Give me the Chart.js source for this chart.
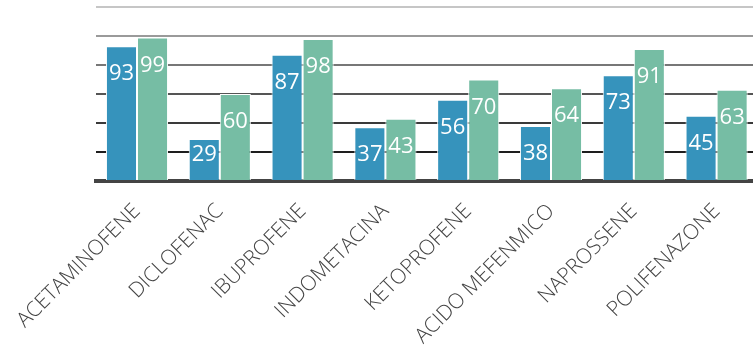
<!DOCTYPE html>
<html>
<head>
<meta charset="utf-8">
<script src="https://cdn.jsdelivr.net/npm/chart.js@4.4.1/dist/chart.umd.min.js"></script>
<style>
  html, body { margin: 0; padding: 0; background: #fff; overflow: hidden; }
  #wrap { width: 760px; height: 352px; }
</style>
</head>
<body>
<div id="wrap"><canvas id="barChart"></canvas></div>
<script>
const categories = ['ACETAMINOFENE', 'DICLOFENAC', 'IBUPROFENE', 'INDOMETACINA',
                    'KETOPROFENE', 'ACIDO MEFENMICO', 'NAPROSSENE', 'POLIFENAZONE'];
const series1 = [93, 29, 87, 37, 56, 38, 73, 45];
const series2 = [99, 60, 98, 43, 70, 64, 91, 63];
const yTicks = [0, 20, 40, 60, 80, 100, 120];

// gridlines fade out towards the top
const gridColors = {0: 'rgba(0,0,0,0)', 20: '#1e1e1e', 40: '#3a3a3a', 60: '#555555',
                    80: '#777777', 100: '#9a9a9a', 120: '#c6c6c6'};

// white value labels inside the top of each bar
const valueLabels = {
    id: 'valueLabels',
    afterDatasetsDraw(chart) {
        const ctx = chart.ctx;
        const bottom = chart.chartArea.bottom;
        ctx.save();
        ctx.fillStyle = '#ffffff';
        ctx.font = '22px "Open Sans"';
        ctx.textAlign = 'center';
        ctx.textBaseline = 'middle';
        chart.data.datasets.forEach((ds, i) => {
            chart.getDatasetMeta(i).data.forEach((bar, j) => {
                const y = Math.min(bar.y + 28, bottom - 26);
                ctx.fillText(ds.data[j], bar.x, y);
            });
        });
        ctx.restore();
    }
};

const ctx = document.getElementById('barChart').getContext('2d');
const barChart = new Chart(ctx, {
    type: 'bar',
    data: {
        labels: categories,
        datasets: [{
            label: 'Serie 1',
            data: series1,
            backgroundColor: '#3693bc',
            borderColor: '#ffffff',
            borderWidth: 1,
            borderSkipped: 'bottom'
        },
        {
            label: 'Serie 2',
            data: series2,
            backgroundColor: '#76bda4',
            borderColor: '#ffffff',
            borderWidth: 1,
            borderSkipped: 'bottom'
        }]
    },
    options: {
        responsive: true,
        maintainAspectRatio: false,
        animation: false,
        datasets: {
            bar: { categoryPercentage: 0.75, barPercentage: 1 }
        },
        layout: { padding: { top: 7, right: 2, bottom: 0, left: 0 } },
        plugins: {
            legend: { display: false },
            tooltip: { enabled: false }
        },
        scales: {
            x: {
                grid: { display: false, drawTicks: false },
                border: { display: true, color: '#444444', width: 4 },
                ticks: {
                    minRotation: 45,
                    maxRotation: 45,
                    padding: 18,
                    color: '#444444',
                    font: { family: '"Open Sans"', size: 21, weight: 300 }
                },
                afterFit(scale) {
                    // labels may hang past the plot edges
                    scale.height = 171;
                    scale.paddingLeft = 0;
                    scale.paddingRight = 0;
                }
            },
            y: {
                min: 0,
                max: 120,
                afterBuildTicks(scale) { scale.ticks = yTicks.map(v => ({ value: v })); },
                grid: {
                    drawTicks: false,
                    lineWidth: 2,
                    color: c => gridColors[c.tick.value]
                },
                border: { display: false },
                ticks: { display: false },
                afterFit(scale) { scale.width = 95.6; }
            }
        }
    },
    plugins: [valueLabels]
});
</script>
</body>
</html>
